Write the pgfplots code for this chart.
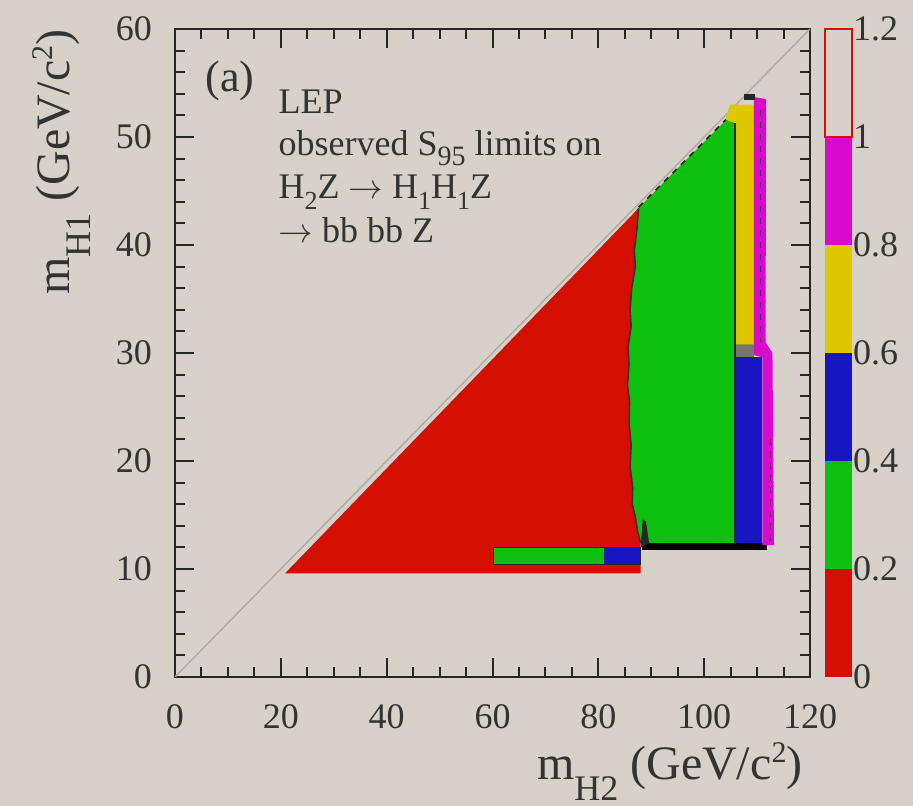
\documentclass[border=0pt]{standalone}
\usepackage{fontspec}
\setmainfont{Liberation Serif}
\usepackage{graphicx}
\usepackage{pgfplots}
\pgfplotsset{compat=1.18}
\definecolor{bg}{RGB}{215,209,201}
\definecolor{cred}{RGB}{212,14,0}
\definecolor{cgreen}{RGB}{14,192,14}
\definecolor{cblue}{RGB}{22,22,195}
\definecolor{cyellow}{RGB}{224,200,0}
\definecolor{cmag}{RGB}{218,10,205}
\definecolor{diag}{RGB}{178,170,162}
\definecolor{cgray}{RGB}{120,118,105}
\newcommand{\lsub}[1]{\raisebox{-10.5pt}{\fontsize{18}{18}\selectfont #1}}
\newcommand{\lsup}[1]{\raisebox{8.5pt}{\fontsize{15}{15}\selectfont #1}}
\newcommand{\tsub}[1]{\raisebox{-5.5pt}{\fontsize{13}{13}\selectfont #1}}
\begin{document}
\begin{tikzpicture}
\path[use as bounding box, fill=bg] (-87.5pt,-64.5pt) rectangle (369pt,338.5pt);
\begin{axis}[name=main, at={(0,0)}, anchor=south west, scale only axis,
  width=317.5pt, height=324pt,
  xmin=0, xmax=120, ymin=0, ymax=60,
  xtick={0,20,...,120}, ytick={0,10,...,60},
  minor x tick num=3, minor y tick num=4,
  tick align=inside,
  major tick length=9.5pt, minor tick length=5pt,
  axis line style={line width=1.2pt, black!85},
  tick style={black!85, line width=1pt},
  tick label style={font=\fontsize{18}{20}\selectfont, text=black!80},
  /pgf/number format/assume math mode=true,
  xticklabel style={yshift=-10pt},
  yticklabel style={xshift=-8pt},
]
% kinematic line
\addplot[diag, line width=0.7pt] coordinates {(0,0) (120,60)};
% green big region
\addplot[fill=cgreen, draw=none] coordinates {(87.6,43.45) (104.2,51.6) (105.8,51.3) (105.8,12.4) (84,12.4) (84,41.3)} -- cycle;
% red triangle
\addplot[fill=cred, draw=none] coordinates {(20.8,9.6) (87.6,43.4) (87.3,41.5) (86.8,39.5) (87.0,38) (86.3,36) (86.0,34) (86.2,32.5) (85.6,30.5) (85.8,29) (85.5,27) (85.9,25.5) (85.8,23.5) (86.2,21.5) (86.0,19.5) (86.5,17.5) (86.4,16) (87.0,14.8) (87.4,13.5) (88,12.4) (88,9.6)} -- cycle;
% red / green boundary
\addplot[black!80, line width=0.8pt] coordinates {(87.6,43.4) (87.3,41.5) (86.8,39.5) (87.0,38) (86.3,36) (86.0,34) (86.2,32.5) (85.6,30.5) (85.8,29) (85.5,27) (85.9,25.5) (85.8,23.5) (86.2,21.5) (86.0,19.5) (86.5,17.5) (86.4,16) (87.0,14.8) (87.4,13.5) (88,12.4)};
% low-mass strip
\addplot[fill=cgreen, draw=none] coordinates {(60.2,10.4) (81,10.4) (81,12.0) (60.2,12.0)} -- cycle;
\addplot[fill=cblue, draw=none] coordinates {(81,10.4) (88,10.4) (88,12.0) (81,12.0)} -- cycle;
\addplot[black!85, line width=0.8pt] coordinates {(60.2,10.4) (88,10.4) (88,12.0) (60.2,12.0)} -- cycle;
% black bottom edge of green
\addplot[fill=black, draw=none] coordinates {(88.3,11.8) (111.8,11.8) (111.8,12.4) (88.3,12.4)} -- cycle;
\addplot[fill=black!85, draw=none] coordinates {(88.0,12.0) (88.4,14.6) (89.0,14.4) (89.6,12.4)} -- cycle;
% high-mass columns
\addplot[fill=cblue, draw=none] coordinates {(105.9,12.4) (111,12.4) (111,29.6) (105.9,29.6)} -- cycle;
\addplot[fill=cgray, draw=none] coordinates {(105.9,29.6) (109.5,29.6) (109.5,30.8) (105.9,30.8)} -- cycle;
\addplot[fill=cyellow, draw=none] coordinates {(104.0,51.6) (104.9,53.0) (109.6,53.0) (109.4,30.8) (105.9,30.8) (105.9,51.3)} -- cycle;
\addplot[fill=cmag, draw=none] coordinates {(109.4,53.7) (111.7,53.5) (111.6,31) (112.9,30) (113.2,12.2) (111,12.2) (111,29.6) (109.4,29.8)} -- cycle;
\addplot[fill=black!85, draw=none] coordinates {(107.6,53.4) (109.6,53.4) (109.6,54.0) (107.6,54.0)} -- cycle;
\addplot[cmag!45!black, line width=0.6pt, dashed] coordinates {(110.6,52.5) (110.6,31)};
\addplot[cmag!45!black, line width=0.6pt, dashed] coordinates {(112.5,22) (112.5,12.6)};
\addplot[black!85, line width=1pt] coordinates {(105.85,12.4) (105.85,51.3)};
\addplot[black!85, dashed, line width=0.8pt] coordinates {(87.6,43.5) (104.1,51.6)};
% texts
\node[anchor=base west, inner sep=0pt, font=\fontsize{22}{24}\selectfont, text=black!80] at (axis cs:5.7,54.17) {(a)};
\node[anchor=base west, inner sep=0pt, font=\fontsize{18}{20}\selectfont, text=black!80] at (axis cs:19.5,52.2) {LEP};
\node[anchor=base west, inner sep=0pt, font=\fontsize{18}{20}\selectfont, text=black!80] at (axis cs:19.5,48.33) {observed S\raisebox{-5pt}{\fontsize{14}{14}\selectfont 95} limits on};
\node[anchor=base west, inner sep=0pt, font=\fontsize{18}{20}\selectfont, text=black!80] at (axis cs:19.5,44.35) {H\tsub{2}Z $\rightarrow$ H\tsub{1}H\tsub{1}Z};
\node[anchor=base west, inner sep=0pt, font=\fontsize{18}{20}\selectfont, text=black!80] at (axis cs:19.5,40.19) {$\rightarrow$ bb bb Z};
\end{axis}
% colour scale
\begin{axis}[at={(325pt,0)}, anchor=south west, scale only axis,
  width=13.5pt, height=324pt,
  xmin=0, xmax=1, ymin=0, ymax=1.2,
  axis line style={draw=none},
  xtick=\empty,
  ytick={0,0.2,0.4,0.6,0.8,1,1.2},
  yticklabels={0,0.2,0.4,0.6,0.8,1,1.2},
  yticklabel pos=right,
  major tick length=0pt, tick style={draw=none},
  tick label style={font=\fontsize{18}{20}\selectfont, text=black!80},
  yticklabel style={xshift=-3pt},
  clip=false,
]
\addplot[fill=cred, draw=none] coordinates {(0,0) (1,0) (1,0.2) (0,0.2)} -- cycle;
\addplot[fill=cgreen, draw=none] coordinates {(0,0.2) (1,0.2) (1,0.4) (0,0.4)} -- cycle;
\addplot[fill=cblue, draw=none] coordinates {(0,0.4) (1,0.4) (1,0.6) (0,0.6)} -- cycle;
\addplot[fill=cyellow, draw=none] coordinates {(0,0.6) (1,0.6) (1,0.8) (0,0.8)} -- cycle;
\addplot[fill=cmag, draw=none] coordinates {(0,0.8) (1,0.8) (1,1.0) (0,1.0)} -- cycle;
\addplot[fill=bg, draw=cred, line width=0.6pt] coordinates {(0,1.0) (1,1.0) (1,1.2) (0,1.2)} -- cycle;
\end{axis}
\node[rotate=90, anchor=base east, inner sep=0pt, font=\fontsize{24}{26}\selectfont, text=black!80] at ([xshift=-52.5pt]main.north west) {m\lsub{H1} (GeV/c\lsup{2})};
\node[anchor=base east, inner sep=0pt, font=\fontsize{24}{26}\selectfont, text=black!80] at ([xshift=-3.5pt, yshift=-51pt]main.south east) {m\lsub{H2} (GeV/c\lsup{2})};
\end{tikzpicture}
\end{document}
